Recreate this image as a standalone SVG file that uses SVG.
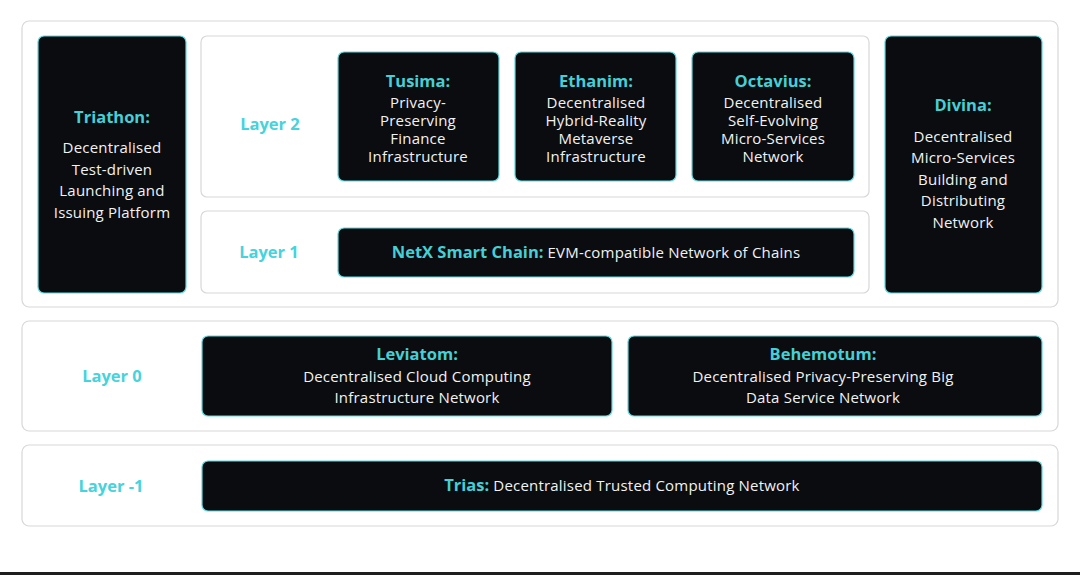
<svg xmlns="http://www.w3.org/2000/svg" width="1080" height="575" viewBox="0 0 1080 575">
<style>
.panel{fill:#ffffff;stroke:#d8d8d8;stroke-width:1.2}
.node{fill:#0a0c0f;stroke:#5fd8dc;stroke-width:1.2}
.lay{font-family:"Open Sans","Liberation Sans",sans-serif;font-weight:bold;font-size:16.5px;fill:#45d3dc;text-anchor:middle}
.ttl{font-family:"Open Sans","Liberation Sans",sans-serif;font-weight:bold;font-size:16.5px;fill:#45cfd6;text-anchor:middle}
.txt{font-family:"Open Sans","Liberation Sans",sans-serif;font-size:15px;letter-spacing:0.2px;fill:#f2f2f2;text-anchor:middle}
.mix{font-family:"Open Sans","Liberation Sans",sans-serif;font-size:15px;letter-spacing:0.2px;text-anchor:middle}
</style>
<rect width="1080" height="575" fill="#ffffff"/>
<g id="panels">
<rect class="panel" x="22" y="21" width="1036" height="286" rx="7"/>
<rect class="panel" x="201" y="36" width="668" height="161" rx="6"/>
<rect class="panel" x="201" y="211" width="668" height="82" rx="6"/>
<rect class="panel" x="22" y="321" width="1036" height="110" rx="7"/>
<rect class="panel" x="22" y="445" width="1036" height="81" rx="7"/>
</g>
<g id="layer-labels">
<text class="lay" x="270" y="130">Layer 2</text>
<text class="lay" x="269" y="258">Layer 1</text>
<text class="lay" x="112" y="382">Layer 0</text>
<text class="lay" x="111" y="492">Layer -1</text>
</g>
<g id="triathon">
<rect class="node" x="38" y="36" width="148" height="257" rx="6"/>
<text class="ttl" x="112" y="123">Triathon:</text>
<text class="txt" x="112" y="153">Decentralised</text>
<text class="txt" x="112" y="175">Test-driven</text>
<text class="txt" x="112" y="196">Launching and</text>
<text class="txt" x="112" y="218">Issuing Platform</text>
</g>
<g id="tusima">
<rect class="node" x="338" y="52" width="161" height="129" rx="6"/>
<text class="ttl" x="418" y="87">Tusima:</text>
<text class="txt" x="418" y="108">Privacy-</text>
<text class="txt" x="418" y="126">Preserving</text>
<text class="txt" x="418" y="144">Finance</text>
<text class="txt" x="418" y="162">Infrastructure</text>
</g>
<g id="ethanim">
<rect class="node" x="515" y="52" width="161" height="129" rx="6"/>
<text class="ttl" x="596" y="87">Ethanim:</text>
<text class="txt" x="596" y="108">Decentralised</text>
<text class="txt" x="596" y="126">Hybrid-Reality</text>
<text class="txt" x="596" y="144">Metaverse</text>
<text class="txt" x="596" y="162">Infrastructure</text>
</g>
<g id="octavius">
<rect class="node" x="692" y="52" width="162" height="129" rx="6"/>
<text class="ttl" x="773" y="87">Octavius:</text>
<text class="txt" x="773" y="108">Decentralised</text>
<text class="txt" x="773" y="126">Self-Evolving</text>
<text class="txt" x="773" y="144">Micro-Services</text>
<text class="txt" x="773" y="162">Network</text>
</g>
<g id="netx">
<rect class="node" x="338" y="228" width="516" height="49" rx="6"/>
<text class="mix" x="596" y="258"><tspan style="font-weight:bold;font-size:16.5px;letter-spacing:0;fill:#45cfd6">NetX Smart Chain:</tspan><tspan fill="#f2f2f2"> EVM-compatible Network of Chains</tspan></text>
</g>
<g id="divina">
<rect class="node" x="885" y="36" width="157" height="257" rx="6"/>
<text class="ttl" x="963" y="111">Divina:</text>
<text class="txt" x="963" y="142">Decentralised</text>
<text class="txt" x="963" y="163">Micro-Services</text>
<text class="txt" x="963" y="185">Building and</text>
<text class="txt" x="963" y="206">Distributing</text>
<text class="txt" x="963" y="228">Network</text>
</g>
<g id="leviatom">
<rect class="node" x="202" y="336" width="410" height="80" rx="6"/>
<text class="ttl" x="417" y="360">Leviatom:</text>
<text class="txt" x="417" y="382">Decentralised Cloud Computing</text>
<text class="txt" x="417" y="403">Infrastructure Network</text>
</g>
<g id="behemotum">
<rect class="node" x="628" y="336" width="414" height="80" rx="6"/>
<text class="ttl" x="823" y="360">Behemotum:</text>
<text class="txt" x="823" y="382">Decentralised Privacy-Preserving Big</text>
<text class="txt" x="823" y="403">Data Service Network</text>
</g>
<g id="trias">
<rect class="node" x="202" y="461" width="840" height="50" rx="6"/>
<text class="mix" x="622" y="491"><tspan style="font-weight:bold;font-size:16.5px;letter-spacing:0;fill:#45cfd6">Trias:</tspan><tspan fill="#f2f2f2"> Decentralised Trusted Computing Network</tspan></text>
</g>
<g id="connectors"></g>
<rect x="0" y="572" width="1080" height="3" fill="#1e1e1e"/>
</svg>
